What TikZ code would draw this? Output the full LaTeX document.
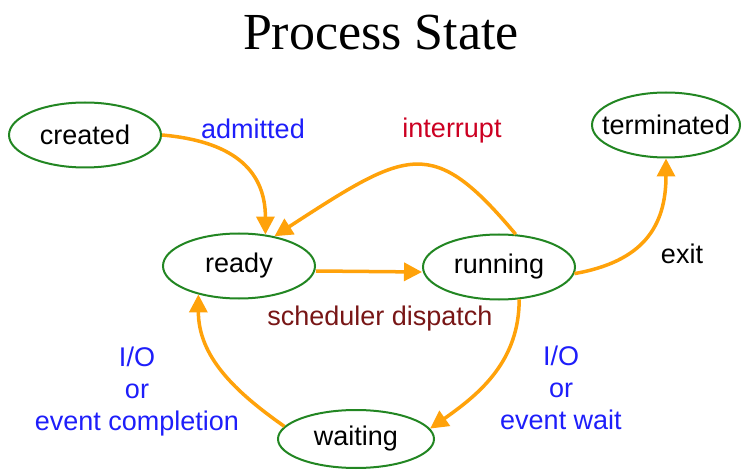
\documentclass[tikz,border=0pt]{standalone}
\usepackage{fontspec}
\setmainfont{Liberation Sans}
\newfontfamily\titlefont{Liberation Serif}
\usetikzlibrary{shapes.geometric,arrows.meta}
\definecolor{stategreen}{RGB}{34,134,34}
\definecolor{arroworange}{RGB}{255,162,10}
\definecolor{labelblue}{RGB}{30,30,250}
\definecolor{interruptred}{RGB}{204,0,34}
\definecolor{dispatchred}{RGB}{120,22,22}

\begin{document}
\begin{tikzpicture}[
      x=1pt, y=1pt,
      state/.style={ellipse, draw=stategreen, line width=2pt, minimum width=152pt,
        minimum height=65pt, inner xsep=-12pt, inner ysep=0pt,
        font=\fontsize{27}{32}\selectfont},
      trans/.style={draw=arroworange, line width=3.5pt, -{Triangle[length=18pt,width=18pt]}},
      lbl/.style={font=\fontsize{27}{32}\selectfont, align=center}
    ]
    \useasboundingbox (0,0) rectangle (742,472);
    \node[font=\titlefont\fontsize{52}{60}\selectfont, anchor=base] (title) at (381,422) {Process State};

    \node[state] (created) at (85,337) {created};
    \node[state] (ready) at (239,206) {ready};
    \node[state] (running) at (499,205) {running};
    \node[state, minimum width=148pt] (terminated) at (666,347) {terminated};
    \node[state, minimum width=156pt, minimum height=58pt] (waiting) at (356,33) {waiting};

    % labels
    \node[lbl, text=labelblue] (admitted) at (253,343) {admitted};
    \node[lbl, text=interruptred] (interrupt) at (452,341) {interrupt};
    \node[lbl] (exit) at (682,218) {exit};
    \node[lbl, text=dispatchred] (dispatch) at (380,153) {scheduler dispatch};
    \node[lbl, text=labelblue] (completion) at (137,80) {I/O\\or\\event completion};
    \node[lbl, text=labelblue] (eventwait) at (561,84) {I/O\\or\\event wait};

    % transitions
    \draw[trans] (created.east) to[out=-5, in=90, looseness=1.2] (ready.50);
    \draw[trans] (running.63) .. controls +(130:130) and +(33:160) .. (ready.40);
    \draw[trans] ([yshift=-5pt]ready.east) -- ([yshift=-5pt]running.west);
    \draw[trans] (running.-5) to[out=10, in=-90, looseness=1.2] (terminated.south);
    \draw[trans] (running.-58) to[out=-90, in=35] (waiting.8);
    \draw[trans] (waiting.170) to[out=145, in=-90] (ready.215);
\end{tikzpicture}
\end{document}
